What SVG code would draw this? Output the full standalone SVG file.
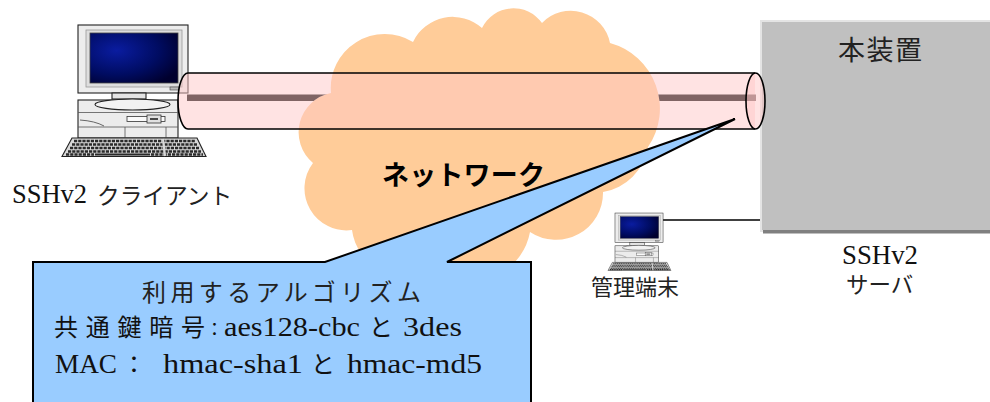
<svg xmlns="http://www.w3.org/2000/svg" width="990" height="402" viewBox="0 0 990 402">
<style>
  .cloud { fill: #FFCC99; }
  .tubefill { fill: #FFC8C8; fill-opacity: 0.5; stroke: none; }
  .tubeline { fill: none; stroke: #000; stroke-width: 1.6; }
  .keys { stroke: #2a2a2a; stroke-width: 2.6; stroke-dasharray: 3.2 1; }
  .ol { stroke: #222; stroke-width: 1.1; }
</style>
<defs>
  <radialGradient id="scr" cx="30%" cy="35%" r="80%">
    <stop offset="0" stop-color="#0a1ca0"/>
    <stop offset="0.6" stop-color="#000c62"/>
    <stop offset="1" stop-color="#00002e"/>
  </radialGradient>
  <path id="cloudShape" d="M 331 93 A 54 54 0 0 1 413 42 A 44 44 0 0 1 482 28 A 35 35 0 0 1 542 23 A 40 40 0 0 1 610 43 A 68 68 0 0 1 648 147 A 55 55 0 0 1 603 192 A 47 47 0 0 1 530 232 A 60 60 0 0 1 430 265 A 50 50 0 0 1 352 230 A 42 42 0 0 1 313 163 A 40 40 0 0 1 331 93 Z"/>
  <mask id="nocloud" maskUnits="userSpaceOnUse" x="0" y="0" width="990" height="402">
    <rect x="0" y="0" width="990" height="402" fill="#fff"/>
    <use href="#cloudShape" fill="#000"/>
  </mask>
  <g id="pc-icon">
    <rect x="78" y="25" width="110" height="68" fill="#ededed" class="ol"/>
    <rect x="86" y="30" width="96" height="57" fill="#dedede" stroke="#999" stroke-width="0.8"/>
    <rect x="90" y="33" width="88" height="50" fill="url(#scr)" stroke="#444" stroke-width="0.8"/>
    <rect x="170" y="87" width="9" height="3" fill="#bbb" stroke="#444" stroke-width="0.6"/>
    <rect x="78" y="100" width="100" height="38" fill="#ececec" class="ol"/>
    <line x1="78" y1="112.5" x2="178" y2="112.5" stroke="#555" stroke-width="0.8"/>
    <line x1="78" y1="127" x2="178" y2="127" stroke="#555" stroke-width="0.8"/>
    <line x1="125" y1="127" x2="125" y2="138" stroke="#555" stroke-width="0.8"/>
    <line x1="166" y1="127" x2="166" y2="138" stroke="#555" stroke-width="0.8"/>
    <path d="M 80 120 Q 95 121 104 126" fill="none" stroke="#444" stroke-width="0.8"/>
    <rect x="127" y="116.5" width="38" height="5" fill="#fafafa" stroke="#333" stroke-width="0.8"/>
    <rect x="147" y="115" width="14" height="8" fill="#e0e0e0" stroke="#333" stroke-width="0.8"/>
    <line x1="150" y1="119" x2="158" y2="119" stroke="#222" stroke-width="1.6"/>
    <rect x="112" y="93" width="34" height="6" fill="#e4e4e4" class="ol"/>
    <ellipse cx="132.5" cy="104.5" rx="37.5" ry="5.5" fill="#f2f2f2" class="ol"/>
    <polygon points="72,138 197,138 206,156.5 62,156.5" fill="#d8d8d8" class="ol"/>
    <line x1="74" y1="141" x2="195" y2="141" class="keys"/>
    <line x1="72" y1="144.5" x2="197" y2="144.5" class="keys"/>
    <line x1="70" y1="148" x2="199" y2="148" class="keys"/>
    <line x1="68" y1="151.5" x2="201" y2="151.5" class="keys"/>
    <line x1="66" y1="154.5" x2="94" y2="154.5" class="keys" stroke-width="2"/>
    <line x1="95" y1="154.5" x2="150" y2="154.5" stroke="#2a2a2a" stroke-width="2"/>
    <line x1="151" y1="154.5" x2="203" y2="154.5" class="keys" stroke-width="2"/>
    <line x1="163" y1="139" x2="165" y2="156" stroke="#d8d8d8" stroke-width="2.2"/>
  </g>
</defs>

<g id="client">
  <use href="#pc-icon"/>
  <text x="12" y="203" font-family="Liberation Serif, serif" font-size="26.5" fill="#111">SSHv2</text>
  <text x="97" y="204" font-family="Noto Sans CJK JP, sans-serif" font-size="22.7" fill="#222">クライアント</text>
</g>

<g id="server">
  <rect x="760" y="20" width="232" height="212" fill="#e4e4e4"/>
  <rect x="763" y="230" width="229" height="3.5" fill="#808080"/>
  <rect x="762" y="22" width="230" height="208" fill="#c0c0c0"/>
  <text font-family="Noto Sans CJK JP, sans-serif" fill="#222" x="838" y="60" font-size="27" textLength="84">本装置</text>
  <text font-family="Liberation Serif, serif" fill="#111" x="842" y="264" font-size="26.8">SSHv2</text>
  <text font-family="Noto Sans CJK JP, sans-serif" fill="#222" x="846" y="293" font-size="22.5">サーバ</text>
</g>

<g id="network">
  <use href="#cloudShape" class="cloud"/>
  <text font-family="Noto Sans CJK JP, sans-serif" font-weight="bold" fill="#000" x="382" y="185" font-size="27" textLength="163">ネットワーク</text>
</g>

<g id="connectors">
  <path class="tubefill" d="M 188 73 L 755 73 L 755 129 L 188 129 A 10 28 0 0 1 188 73 Z"/>
  <rect x="187" y="94.5" width="569" height="6.5" fill="#806464" mask="url(#nocloud)"/>
  <path class="tubeline" d="M 755 73 L 188 73 A 10 28 0 0 0 188 129 L 755 129"/>
  <ellipse class="tubefill" cx="755.5" cy="101" rx="9.5" ry="28"/>
  <ellipse class="tubeline" cx="755.5" cy="101" rx="9.5" ry="28" stroke-width="1.8"/>
  <line x1="662" y1="220" x2="760" y2="220" stroke="#000" stroke-width="1.5"/>
</g>

<g id="terminal">
  <use href="#pc-icon" transform="translate(580.9,202.1) scale(0.437)"/>
  <text font-family="Noto Sans CJK JP, sans-serif" fill="#222" x="591" y="295" font-size="22">管理端末</text>
</g>

<g id="callout">
  <path d="M 33 262 L 325 262 L 735 119 L 447 262 L 531 262 L 531 406 L 33 406 Z" fill="#99CCFF" stroke="#000" stroke-width="2"/>
  <text font-family="Noto Sans CJK JP, sans-serif" fill="#222" x="142" y="301" font-size="24" textLength="279">利用するアルゴリズム</text>
  <text y="336" fill="#111"><tspan font-family="Noto Sans CJK JP, sans-serif" x="54" font-size="24" textLength="151">共通鍵暗号</tspan><tspan font-family="Noto Sans CJK JP, sans-serif" x="205.5" font-size="18">：</tspan><tspan font-family="Liberation Serif, serif" x="224" font-size="28" textLength="136" lengthAdjust="spacingAndGlyphs">aes128-cbc</tspan><tspan font-family="Noto Sans CJK JP, sans-serif" x="369" font-size="24">と</tspan><tspan font-family="Liberation Serif, serif" x="403" font-size="28" textLength="59" lengthAdjust="spacingAndGlyphs">3des</tspan></text>
  <text y="373" fill="#111"><tspan font-family="Liberation Serif, serif" x="55" font-size="28" textLength="62" lengthAdjust="spacingAndGlyphs">MAC</tspan><tspan font-family="Noto Sans CJK JP, sans-serif" x="122" font-size="24">：</tspan><tspan font-family="Liberation Serif, serif" x="163" font-size="28" textLength="140" lengthAdjust="spacingAndGlyphs">hmac-sha1</tspan><tspan font-family="Noto Sans CJK JP, sans-serif" x="311" font-size="24">と</tspan><tspan font-family="Liberation Serif, serif" x="347" font-size="28" textLength="135" lengthAdjust="spacingAndGlyphs">hmac-md5</tspan></text>
</g>
</svg>
